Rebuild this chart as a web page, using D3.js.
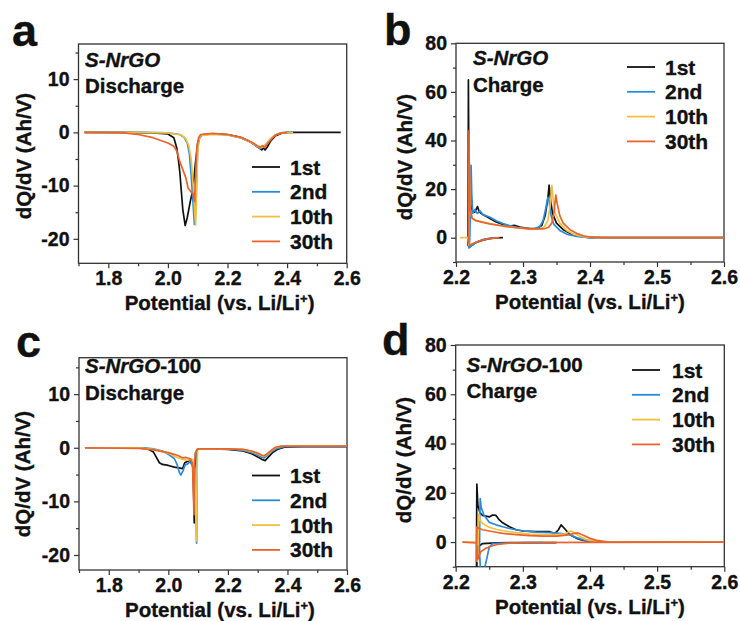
<!DOCTYPE html>
<html>
<head>
<meta charset="utf-8">
<script src="https://cdn.jsdelivr.net/npm/d3@7.9.0/dist/d3.min.js"></script>
<style>
  body { margin: 0; background: #fff; }
  svg { display: block; font-family: "Liberation Sans", Arial, sans-serif; font-weight: bold; }
  svg text { stroke: #111; stroke-width: 0.35; }
  .tick text { font-size: 19.5px; font-weight: bold; fill: #111; font-family: "Liberation Sans", Arial, sans-serif; }
  .tick line { stroke: #333; stroke-width: 1.2; }
</style>
</head>
<body>
<svg id="chart" width="740" height="621"></svg>
<script>
// cycles and colours
const cycles = ["1st", "2nd", "10th", "30th"];
const colors = ["#111111", "#2a8bdb", "#f0c040", "#e8642c"];

// panel a: S-NrGO discharge, [potential, dQ/dV]
const a1st = [[1.72,0],[1.85,0],[1.95,-0.1],[2.0,-0.3],[2.02,-1],[2.03,-3],[2.036,-5.5],[2.04,-7.5],[2.045,-11],[2.05,-14.5],[2.058,-17.5],[2.065,-16],[2.075,-13],[2.084,-10.8],[2.092,-6],[2.1,-2],[2.108,-0.7],[2.12,-0.4],[2.15,-0.3],[2.2,-0.4],[2.24,-0.9],[2.27,-1.6],[2.29,-2.3],[2.305,-2.9],[2.315,-3.3],[2.32,-2.9],[2.326,-3.3],[2.333,-2.8],[2.345,-1.6],[2.36,-0.7],[2.38,-0.2],[2.4,0],[2.45,0],[2.58,0]];
const a2nd = [[1.72,0],[1.9,0],[2.0,-0.1],[2.04,-0.4],[2.055,-1],[2.065,-2],[2.072,-4],[2.078,-8],[2.084,-13],[2.089,-17.3],[2.093,-15],[2.097,-8],[2.1,-3],[2.105,-1.2],[2.115,-0.5],[2.15,-0.3],[2.2,-0.5],[2.25,-1.1],[2.28,-1.9],[2.3,-2.7],[2.31,-3],[2.318,-2.8],[2.33,-2.2],[2.345,-1.2],[2.36,-0.5],[2.38,-0.1],[2.42,0]];
const a10th = [[1.72,0],[1.9,0],[2.0,-0.1],[2.045,-0.5],[2.06,-1.2],[2.07,-2.5],[2.078,-5],[2.085,-10],[2.09,-15],[2.093,-17.4],[2.096,-12],[2.099,-5],[2.103,-1.5],[2.11,-0.6],[2.15,-0.4],[2.2,-0.5],[2.25,-1.1],[2.28,-1.9],[2.3,-2.6],[2.31,-2.9],[2.32,-2.7],[2.33,-2.2],[2.345,-1.2],[2.36,-0.5],[2.38,-0.1],[2.42,0]];
const a30th = [[1.72,0],[1.85,-0.1],[1.9,-0.4],[1.95,-1],[2.0,-2],[2.02,-2.6],[2.03,-3.5],[2.04,-5.5],[2.05,-7],[2.06,-8.5],[2.068,-10.5],[2.078,-11.2],[2.085,-11.5],[2.089,-13],[2.093,-8],[2.097,-3],[2.103,-1],[2.11,-0.4],[2.15,-0.2],[2.2,-0.4],[2.25,-1],[2.28,-1.8],[2.3,-2.5],[2.31,-2.8],[2.318,-2.5],[2.325,-2.8],[2.335,-2.1],[2.35,-1.1],[2.365,-0.4],[2.38,-0.1],[2.4,0]];

// panel b: S-NrGO charge
const b1st = [[2.27,0],[2.26,-0.1],[2.25,-0.4],[2.24,-1],[2.23,-2],[2.224,-3],[2.22,-4],[2.218,-3],[2.2182,20],[2.2185,65],[2.219,40],[2.221,15],[2.224,11],[2.228,10.5],[2.232,12.8],[2.235,10.5],[2.24,9.5],[2.25,8],[2.26,6.5],[2.27,5.5],[2.28,4.8],[2.287,5.1],[2.295,4.4],[2.31,3.7],[2.32,3.7],[2.328,5],[2.333,9],[2.337,16],[2.339,21.6],[2.341,16],[2.344,10],[2.35,6],[2.36,3.3],[2.37,1.8],[2.38,0.8],[2.39,0.3],[2.4,0.05],[2.45,0],[2.6,0]];
const b2nd = [[2.26,0],[2.25,-0.3],[2.24,-0.8],[2.23,-2],[2.222,-3.5],[2.219,-4.2],[2.2205,-1],[2.2215,12],[2.2225,29.8],[2.2235,18],[2.225,10],[2.228,11.5],[2.232,10],[2.236,11],[2.24,9.5],[2.25,8.5],[2.26,7],[2.27,5.8],[2.28,5],[2.29,4.3],[2.3,3.9],[2.315,3.6],[2.325,4.5],[2.33,7],[2.334,12],[2.337,16.5],[2.339,15],[2.342,9],[2.346,5.5],[2.355,3],[2.365,1.5],[2.38,0.5],[2.4,0.05],[2.45,0],[2.6,0]];
const b10th = [[2.206,0],[2.218,0],[2.219,-3],[2.2193,15],[2.2196,30],[2.221,12],[2.224,8],[2.23,7],[2.24,6.5],[2.25,5.8],[2.27,4.8],[2.29,4.1],[2.31,3.6],[2.325,3.6],[2.332,4.5],[2.337,7],[2.341,14],[2.343,21.5],[2.345,16],[2.348,10],[2.355,6],[2.365,3],[2.375,1.5],[2.39,0.4],[2.41,0],[2.6,0]];
const b30th = [[2.265,0],[2.255,-0.2],[2.245,-0.6],[2.235,-1.3],[2.226,-2.3],[2.221,-3],[2.219,-2],[2.2192,20],[2.2194,44],[2.2198,30],[2.221,12],[2.224,8],[2.23,7],[2.24,6.3],[2.25,5.7],[2.27,4.8],[2.29,4.1],[2.31,3.6],[2.33,3.6],[2.338,4.2],[2.343,6],[2.346,10],[2.349,17.5],[2.351,14],[2.355,9],[2.36,6],[2.37,3.3],[2.38,1.8],[2.39,0.8],[2.4,0.3],[2.42,0],[2.6,0]];

// panel c: S-NrGO-100 discharge
const c1st = [[1.72,0],[1.9,0],[1.93,-0.2],[1.95,-0.8],[1.96,-1.8],[1.97,-2.8],[1.98,-3.1],[2.0,-3.3],[2.02,-3.6],[2.04,-3.8],[2.048,-3.9],[2.055,-2.8],[2.062,-2.6],[2.07,-2.5],[2.078,-2.6],[2.083,-3.5],[2.086,-11],[2.087,-14],[2.088,-4],[2.095,-0.5],[2.1,-0.2],[2.15,-0.2],[2.2,-0.3],[2.25,-0.6],[2.28,-1.1],[2.3,-1.7],[2.315,-2.2],[2.325,-2.4],[2.335,-1.8],[2.35,-0.9],[2.37,-0.2],[2.39,0.1],[2.45,0.2],[2.6,0.2]];
const c2nd = [[1.72,0],[1.92,0],[1.95,-0.2],[1.98,-0.6],[2.0,-1.2],[2.02,-2],[2.03,-3.2],[2.037,-4.6],[2.042,-5.1],[2.05,-4.2],[2.056,-3.2],[2.065,-3],[2.072,-2.6],[2.08,-3.2],[2.088,-5],[2.092,-12],[2.095,-17.8],[2.096,-10],[2.097,-0.3],[2.1,-0.2],[2.15,-0.2],[2.2,-0.2],[2.25,-0.5],[2.28,-0.9],[2.3,-1.4],[2.315,-1.8],[2.322,-1.9],[2.33,-1.5],[2.345,-0.8],[2.365,-0.1],[2.39,0.2],[2.45,0.2],[2.6,0.2]];
const c10th = [[1.72,0],[1.9,0],[1.95,-0.3],[2.0,-1],[2.03,-1.8],[2.05,-2.2],[2.065,-2.3],[2.075,-2.1],[2.083,-2.2],[2.088,-4],[2.092,-12],[2.094,-17.4],[2.096,-8],[2.098,-0.2],[2.15,-0.2],[2.2,-0.2],[2.25,-0.3],[2.28,-0.7],[2.3,-1.1],[2.315,-1.5],[2.322,-1.6],[2.33,-1.3],[2.345,-0.6],[2.36,0],[2.38,0.3],[2.45,0.3],[2.6,0.3]];
const c30th = [[1.72,0],[1.9,-0.1],[1.95,-0.4],[2.0,-0.9],[2.03,-1.4],[2.05,-1.9],[2.058,-1.8],[2.065,-1.9],[2.075,-2.1],[2.081,-3],[2.084,-8],[2.086,-12.5],[2.087,-6],[2.09,-1],[2.1,-0.2],[2.15,-0.2],[2.2,-0.2],[2.25,-0.3],[2.28,-0.6],[2.3,-1],[2.315,-1.4],[2.322,-1.5],[2.33,-1.2],[2.345,-0.5],[2.36,0.1],[2.38,0.3],[2.45,0.3],[2.6,0.3]];

// panel d: S-NrGO-100 charge (null = break in the trace)
const d1st = [[2.35,-0.2],[2.3,-0.2],[2.26,-0.3],[2.24,-0.6],[2.233,-2],[2.231,-12],[2.2312,10],[2.2315,23.5],[2.233,15],[2.236,12],[2.24,10.8],[2.245,10.5],[2.25,10.2],[2.255,11],[2.26,10.8],[2.265,9],[2.27,7.8],[2.28,6.2],[2.29,5],[2.3,4.5],[2.32,4.2],[2.34,4.2],[2.348,3.5],[2.353,5],[2.357,7],[2.362,5.5],[2.37,3],[2.38,1.5],[2.39,0.7],[2.4,0.2],[2.42,0],[2.6,0]];
const d2nd = [[2.33,-0.2],[2.3,-0.3],[2.27,-0.4],[2.255,-0.6],[2.25,-2],[2.246,-7],[2.242,-12],[2.237,-12],[2.2355,-4],[2.2358,10],[2.2365,17.6],[2.238,14],[2.242,11],[2.25,8],[2.26,7],[2.27,6.2],[2.28,5.5],[2.29,5],[2.3,4.5],[2.32,4],[2.34,3.8],[2.355,3.5],[2.365,3.2],[2.37,3],[2.38,1.8],[2.39,0.9],[2.4,0.3],[2.42,0],[2.6,0]];
const d10th = [[2.21,0],[2.231,-0.3],[2.2325,-8],[2.2335,2],[2.2345,11.5],[2.236,9],[2.24,7.5],[2.25,6],[2.26,5.2],[2.27,4.6],[2.29,3.8],[2.31,3.2],[2.33,3],[2.35,3],[2.36,3.2],[2.367,4],[2.372,4.5],[2.378,3.6],[2.385,2.2],[2.395,1],[2.41,0.3],[2.43,0],[2.6,0]];
const d30th = [[2.21,0],[2.231,-0.2],[2.232,-3],[2.233,-7],[2.237,-4],[2.245,-2.5],[2.255,-1.5],[2.265,-0.8],[2.28,-0.4],[2.3,-0.2],[2.4,-0.1],[2.6,0],null,[2.231,-8],[2.2312,2],[2.2315,6.2],[2.235,5.5],[2.24,5],[2.25,4.5],[2.26,4],[2.27,3.5],[2.29,3],[2.31,2.6],[2.33,2.4],[2.35,2.4],[2.365,2.8],[2.375,3.4],[2.382,3.7],[2.39,2.8],[2.4,1.5],[2.41,0.7],[2.425,0.1],[2.44,0],[2.6,0]];

// ticks
const disXTicks = [1.8, 2.0, 2.2, 2.4, 2.6];
const disXMinor = [1.7, 1.9, 2.1, 2.3, 2.5];
const disYTicks = [-20, -10, 0, 10];
const disYMinor = [-15, -5, 5, 15];
const chgXTicks = [2.2, 2.3, 2.4, 2.5, 2.6];
const chgXMinor = [2.25, 2.35, 2.45, 2.55];
const chgYTicks = [0, 20, 40, 60, 80];
const chgYMinor = [-10, 10, 30, 50, 70];

const svg = d3.select("#chart");

const panels = [
  { id: "a", letter: [12, 46], box: [78.5, 44, 346.7, 263.3], xd: [1.7, 2.6], yd: [-24.6, 16.6],
    xt: disXTicks, xm: disXMinor, yt: disYTicks, ym: disYMinor, fmt: ".1f",
    series: [a1st, a2nd, a10th, a30th], name: ["S-NrGO", ""], mode: "Discharge", note: [85, 66.5],
    legend: [252, 167], ytitle: [24, 156], xtitleDx: 7 },
  { id: "b", letter: [384, 45], box: [456, 43.3, 724, 262], xd: [2.2, 2.6], yd: [-10, 80],
    xt: chgXTicks, xm: chgXMinor, yt: chgYTicks, ym: chgYMinor, fmt: ".1f",
    series: [b1st, b2nd, b10th, b30th], name: ["S-NrGO", ""], mode: "Charge", note: [473, 65],
    legend: [627, 67], ytitle: [405, 157], xtitleDx: 0 },
  { id: "c", letter: [16, 356.5], box: [79, 357.7, 347, 570], xd: [1.7, 2.6], yd: [-22.8, 16.8],
    xt: disXTicks, xm: disXMinor, yt: disYTicks, ym: disYMinor, fmt: ".1f",
    series: [c1st, c2nd, c10th, c30th], name: ["S-NrGO", "-100"], mode: "Discharge", note: [85, 373],
    legend: [252, 475.5], ytitle: [23, 474], xtitleDx: 7 },
  { id: "d", letter: [382, 355], box: [455.7, 345, 724.3, 566.7], xd: [2.2, 2.6], yd: [-10, 80],
    xt: chgXTicks, xm: chgXMinor, yt: chgYTicks, ym: chgYMinor, fmt: ".1f",
    series: [d1st, d2nd, d10th, d30th], name: ["S-NrGO", "-100"], mode: "Charge", note: [466.5, 371.5],
    legend: [632, 370], ytitle: [404, 460], xtitleDx: 0 }
];

panels.forEach(p => {
  const [x0, y0, x1, y1] = p.box;
  const x = d3.scaleLinear().domain(p.xd).range([x0, x1]);
  const y = d3.scaleLinear().domain(p.yd).range([y1, y0]);
  const g = svg.append("g");

  // panel letter
  g.append("text").attr("x", p.letter[0]).attr("y", p.letter[1])
    .attr("font-size", 45).attr("fill", "#111").text(p.id);

  // clip
  svg.append("clipPath").attr("id", "clip-" + p.id)
    .append("rect").attr("x", x0).attr("y", y0).attr("width", x1 - x0).attr("height", y1 - y0);

  // axes
  const xAxis = g.append("g").attr("transform", `translate(0,${y1})`)
    .call(d3.axisBottom(x).tickValues(p.xt).tickSize(5).tickSizeOuter(0).tickPadding(3)
      .tickFormat(d3.format(p.fmt)));
  xAxis.select(".domain").remove();
  const xMin = g.append("g").attr("transform", `translate(0,${y1})`)
    .call(d3.axisBottom(x).tickValues(p.xm).tickSize(3).tickFormat(""));
  xMin.select(".domain").remove();

  const yAxis = g.append("g").attr("transform", `translate(${x0},0)`)
    .call(d3.axisLeft(y).tickValues(p.yt).tickSize(5).tickPadding(4).tickFormat(d => String(d)));
  yAxis.select(".domain").remove();
  const yMin = g.append("g").attr("transform", `translate(${x0},0)`)
    .call(d3.axisLeft(y).tickValues(p.ym).tickSize(3).tickFormat(""));
  yMin.select(".domain").remove();

  // frame
  g.append("rect").attr("x", x0).attr("y", y0).attr("width", x1 - x0).attr("height", y1 - y0)
    .attr("fill", "none").attr("stroke", "#333").attr("stroke-width", 1.3);

  // curves
  const line = d3.line().defined(d => d !== null).x(d => x(d[0])).y(d => y(d[1]));
  g.append("g").attr("clip-path", `url(#clip-${p.id})`)
    .selectAll("path").data(p.series).enter().append("path")
    .attr("d", line)
    .attr("fill", "none")
    .attr("stroke", (d, i) => colors[i])
    .attr("stroke-width", 1.7)
    .attr("stroke-linejoin", "round");

  // sample label
  const t1 = g.append("text").attr("x", p.note[0]).attr("y", p.note[1]).attr("font-size", 20.5).attr("fill", "#111");
  t1.append("tspan").attr("font-style", "italic").text(p.name[0]);
  if (p.name[1]) t1.append("tspan").text(p.name[1]);
  g.append("text").attr("x", p.note[0]).attr("y", p.note[1] + 26.5).attr("font-size", 20.5).attr("fill", "#111").text(p.mode);

  // legend
  const lg = g.append("g").attr("transform", `translate(${p.legend[0]},${p.legend[1]})`);
  const row = lg.selectAll("g").data(cycles).enter().append("g")
    .attr("transform", (d, i) => `translate(0,${i * 24.8})`);
  row.append("line").attr("x1", 0).attr("x2", 28).attr("y1", 0).attr("y2", 0)
    .attr("stroke", (d, i) => colors[i]).attr("stroke-width", 1.8);
  row.append("text").attr("x", p.id === "d" ? 40 : 38).attr("y", 7.5).attr("font-size", 21).attr("fill", "#111").text(d => d);

  // axis titles
  g.append("text").attr("transform", `translate(${p.ytitle[0] + 7},${p.ytitle[1]}) rotate(-90)`)
    .attr("text-anchor", "middle").attr("font-size", 20.5).attr("fill", "#111").text("dQ/dV (Ah/V)");
  const xt = g.append("text").attr("x", (x0 + x1) / 2 + p.xtitleDx).attr("y", y1 + 47)
    .attr("text-anchor", "middle").attr("font-size", 20.5).attr("fill", "#111");
  xt.append("tspan").text("Potential (vs. Li/Li");
  xt.append("tspan").attr("font-size", 13).attr("dy", -7).text("+");
  xt.append("tspan").attr("dy", 7).text(")");
});
</script>
</body>
</html>
